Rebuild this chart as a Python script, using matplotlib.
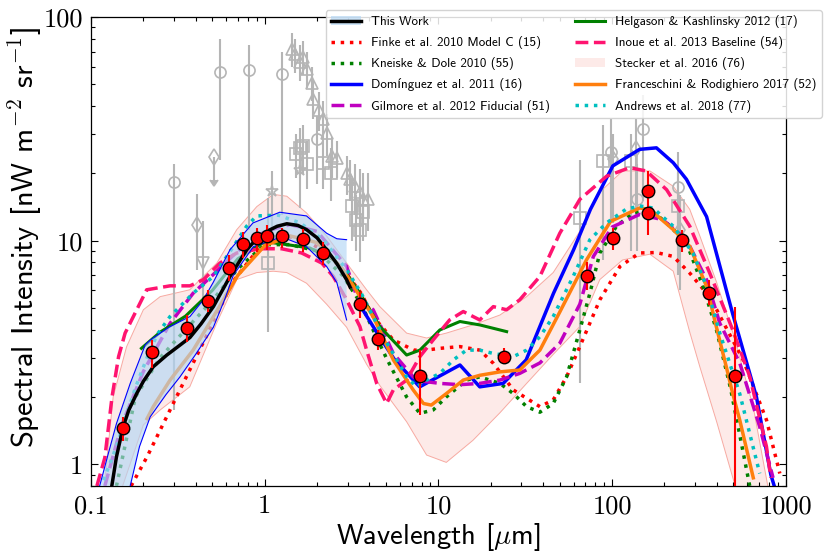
import numpy as np
import matplotlib
matplotlib.use('Agg')
import matplotlib.pyplot as plt
from matplotlib.patches import Patch
from matplotlib.lines import Line2D
from matplotlib.ticker import NullFormatter, LogLocator

plt.rcParams['mathtext.fontset'] = 'cm'
plt.rcParams['axes.unicode_minus'] = False

# ---------------- This Work ----------------
tw_x = [0.1316, 0.14, 0.153, 0.165, 0.183, 0.2, 0.228, 0.273, 0.32, 0.371, 0.43, 0.506, 0.631, 0.788, 0.9,
        1.026, 1.18, 1.34, 1.55, 1.74, 2.0, 2.27, 2.6, 2.96, 3.1]
tw_mid = [0.8, 1.08, 1.47, 1.75, 2.07, 2.35, 2.73, 3.08, 3.38, 3.69, 4.25, 5.07, 6.92, 9.11, 10.2,
          11.0, 11.6, 11.9, 11.7, 11.2, 10.3, 9.11, 7.9, 6.69, 6.2]
twu_x = [0.112, 0.125, 0.14, 0.168, 0.205, 0.22, 0.28, 0.371, 0.44, 0.504, 0.631, 0.855, 1.22, 1.74, 2.27, 2.6, 2.96]
twu_y = [0.8, 1.1, 1.52, 2.30, 3.42, 3.6, 4.1, 4.58, 5.4, 6.49, 9.11, 12.0, 13.4, 12.9, 10.8, 10.2, 10.1]
twl_x = [0.168, 0.19, 0.219, 0.27, 0.325, 0.40, 0.506, 0.59, 0.659, 0.86, 1.25, 1.74, 2.27, 2.6, 2.96]
twl_y = [0.8, 1.2, 1.63, 2.05, 2.46, 3.1, 4.1, 5.5, 7.0, 9.4, 10.4, 9.4, 7.67, 6.5, 4.42]

pts_x = [0.153, 0.225, 0.356, 0.470, 0.619, 0.746, 0.899, 1.026, 1.25, 1.65, 2.16, 3.53, 4.51, 7.86, 23.7,
         71.3, 101, 162, 162, 251, 361, 507]
pts_y = [1.45, 3.17, 4.06, 5.40, 7.55, 9.66, 10.24, 10.5, 10.5, 10.2, 8.81, 5.20, 3.62, 2.47, 3.03,
         6.98, 10.3, 16.6, 13.3, 10.1, 5.86, 2.47]
pts_lo = [1.27, 2.69, 3.52, 4.81, 6.62, 8.39, 8.9, 9.1, 9.3, 8.9, 7.8, 4.5, 3.24, 1.66, 2.8,
          6.0, 9.1, 15.3, 10.6, 8.9, 5.16, 0.5]
pts_hi = [1.63, 3.60, 4.66, 6.03, 8.65, 10.97, 11.4, 11.8, 11.4, 11.3, 9.9, 5.9, 4.0, 3.24, 3.3,
          8.0, 11.4, 20.4, 16.1, 11.2, 6.7, 5.06]

# ---------------- Models ----------------
finke_x = [0.17, 0.21, 0.31, 0.45, 0.65, 0.9, 1.2, 1.6, 2.2, 3.0, 3.6, 4.2, 5.5, 7.2, 8.5, 10.2, 13.3, 17.3,
           20.7, 27, 38.4, 45.8, 54.7, 65.2, 85, 111, 144, 180, 225, 280, 350, 400, 568, 774, 924]
finke_y = [0.8, 1.08, 2.0, 3.6, 6.5, 9.0, 10.5, 10.3, 9.0, 7.0, 5.8, 4.58, 3.6, 3.24, 3.24, 3.30, 3.36, 3.24,
           2.83, 2.15, 1.81, 1.94, 2.46, 3.36, 5.44, 7.67, 8.81, 8.85, 8.5, 7.16, 5.82, 4.91, 2.93, 1.58, 0.91]

kd_x = [0.14, 0.18, 0.25, 0.35, 0.5, 0.7, 1.0, 1.4, 2.0, 2.8, 3.6, 4.2, 5.0, 5.5, 6.56, 7.82, 9.33, 11.1,
        14.5, 17.3, 22.6, 27, 32.2, 38.4, 45.8, 54.7, 65.2, 74.5, 85, 106, 132, 165, 206, 268, 334, 399,
        480, 560, 620]
kd_y = [0.8, 2.0, 3.0, 4.0, 5.4, 7.5, 9.6, 9.6, 9.0, 7.0, 5.2, 4.0, 3.0, 2.6, 2.0, 1.69, 1.75, 2.0,
        2.38, 2.46, 2.30, 2.07, 1.81, 1.71, 1.87, 2.46, 3.99, 5.82, 8.81, 11.6, 13.3, 13.8, 12.0, 9.77, 6.24, 3.99,
        2.2, 1.2, 0.8]

dom_x = [3.5, 4.5, 5.6, 7.8, 13.3, 17.3, 23.6, 32, 46, 60, 75, 101, 144, 180, 225, 268, 350, 495, 678, 820, 880]
dom_y = [5.2, 3.8, 2.93, 2.22, 2.78, 2.22, 2.30, 2.93, 5.82, 9.1, 13.8, 21.6, 25.6, 26.0, 22.3, 18.8, 12.8,
         4.7, 2.0, 0.9, 0.75]

gil_x = [0.12, 0.15, 0.2, 0.285, 0.387, 0.5, 0.7, 1.0, 1.4, 2.0, 2.96, 3.4, 4.21, 5.5, 7.16, 8.2, 10.2,
         13.3, 17.3, 22.6, 29.4, 38.4, 50, 65.2, 78, 100, 144, 196, 268, 350, 417, 543, 708, 845]
gil_y = [0.8, 1.5, 2.6, 4.27, 5.82, 7.0, 9.0, 11.0, 11.8, 11.0, 7.67, 5.6, 4.91, 3.13, 2.46, 2.35, 2.30,
         2.27, 2.30, 2.38, 2.55, 2.84, 3.48, 5.2, 8.5, 11.5, 13.1, 12.4, 10.1, 6.69, 4.27, 2.84, 1.47, 0.87]

hk_x = [0.195, 0.25, 0.35, 0.5, 0.7, 1.0, 1.34, 1.82, 2.48, 3.0, 3.53, 4.6, 6.56, 7.82, 10.2, 13.3, 17.3, 24.7]
hk_y = [3.3, 3.9, 4.6, 6.0, 8.3, 9.9, 9.6, 9.27, 8.22, 7.0, 5.82, 4.13, 3.08, 3.24, 3.99, 4.35, 4.2, 3.92]

ino_x = [0.108, 0.12, 0.132, 0.144, 0.157, 0.209, 0.285, 0.371, 0.443, 0.552, 0.690, 0.94, 1.25, 1.63, 2.13,
         2.48, 2.96, 3.53, 3.86, 4.41, 5.03, 5.5, 6.56, 7.82, 9.33, 11.6, 13.9, 17.3, 20.7, 24.7, 29.4, 38.4,
         50, 65.2, 92.9, 126, 157, 206, 280, 365, 495, 621, 774, 820]
ino_y = [0.8, 1.07, 2.0, 3.03, 3.86, 6.03, 6.28, 6.28, 6.69, 7.94, 8.81, 9.2, 9.2, 8.81, 7.94,
         6.92, 5.44, 4.13, 3.24, 2.30, 1.87, 2.15, 2.38, 3.03, 3.60, 4.42, 4.82, 4.42, 5.07, 4.91, 5.44, 6.92,
         10.8, 15.3, 19.4, 21.2, 20.5, 16.9, 11.6, 7.16, 3.99, 2.46, 1.2, 0.87]

st_x = [0.12, 0.134, 0.16, 0.2, 0.25, 0.37, 0.53, 0.69, 0.9, 1.12, 1.34, 1.74, 2.27, 2.96, 3.86, 4.6, 6.56,
        8.55, 11.1, 15.8, 22.6, 32.2, 45.8, 65.2, 85, 115, 165, 225, 280, 320, 400, 500, 650, 800]
st_hi = [0.85, 2.0, 3.35, 4.91, 5.62, 6.03, 7.94, 11.2, 14.2, 16.1, 15.8, 13.3, 10.5, 7.94, 6.03, 5.07, 3.86,
         3.67, 3.86, 4.2, 4.65, 5.62, 7.2, 11.0, 16.5, 20.5, 20.5, 17.5, 13.8, 10.5, 6.5, 3.8, 1.8, 0.75]
st_lo = [0.5, 0.6, 0.9, 1.5, 1.75, 2.22, 4.3, 6.7, 7.2, 7.3, 7.2, 6.45, 5.2, 4.1, 2.8, 2.25, 1.55,
         1.1, 1.02, 1.28, 1.7, 2.3, 3.1, 4.13, 6.7, 8.2, 8.7, 7.3, 3.9, 2.73, 1.55, 0.85, 0.4, 0.3]

fr_x = [0.21, 0.228, 0.285, 0.387, 0.5, 0.7, 1.0, 1.4, 2.0, 2.8, 3.5, 4.21, 5.5, 7.16, 8.2, 9.1, 11.1, 13.9,
        17.3, 22.6, 29.4, 38.4, 50, 71.3, 98, 144, 165, 225, 280, 350, 399, 456, 495, 543, 650]
fr_y = [1.6, 1.81, 2.38, 3.24, 4.5, 7.0, 9.5, 10.5, 9.8, 7.5, 5.7, 4.58, 2.93, 2.15, 1.87, 1.84, 2.07, 2.38,
        2.50, 2.59, 2.64, 3.24, 4.8, 8.22, 12.2, 14.0, 13.8, 11.2, 9.43, 6.24, 4.1, 2.7, 2.07, 1.58, 0.87]

an_x = [0.118, 0.14, 0.18, 0.21, 0.24, 0.285, 0.387, 0.506, 0.659, 0.786, 0.898, 1.2, 1.6, 2.2, 3.0, 3.6, 4.82,
        6.56, 7.5, 8.55, 10.2, 12.2, 14.5, 17.3, 20.7, 27, 32.2, 38.4, 45.8, 59.7, 74.5, 92.9, 120, 144, 172,
        225, 292, 350, 417, 543, 708]
an_y = [0.85, 1.2, 2.2, 3.0, 3.8, 4.58, 5.82, 6.92, 9.4, 11.6, 12.9, 13.0, 12.0, 10.0, 7.3, 5.8, 3.72,
        2.46, 2.22, 2.38, 2.55, 2.93, 3.24, 3.24, 3.13, 3.03, 3.24, 3.72, 4.58, 6.92, 10.1, 12.0, 13.8, 14.3, 14.0,
        11.6, 8.81, 6.24, 3.86, 2.07, 0.91]

# ---------------- literature measurements (grey) ----------------
g_o_x = [0.30, 0.552, 0.81, 1.26, 1.99, 98, 150, 140, 240]
g_o_y = [18.2, 56.6, 57.8, 55.5, 28.4, 24.9, 31.7, 15.3, 17.4]
g_o_lo = [1.75, 23, 11.2, 13, 18, 12, 15, 9, 9]
g_o_hi = [22, 80, 75, 70, 36, 35, 45, 22, 25]

g_s_x = [1.05, 1.52, 1.59, 1.67, 1.75, 2.16, 2.4, 3.2, 3.37, 3.53, 3.7, 65.2, 88.8, 128, 240]
g_s_y = [7.94, 24.5, 26.0, 26.5, 22.0, 22.3, 20.0, 14.3, 12.4, 11.2, 13.5, 12.6, 22.8, 22.8, 14.3]
g_s_lo = [3.9, 19, 20, 20, 17, 17, 15, 10, 9, 8, 10, 2.3, 8.2, 9, 7]
g_s_hi = [15.5, 30, 32, 33, 28, 28, 26, 19, 16, 15, 17, 23, 33, 30, 20]

g_t_x = [1.43, 1.5, 1.59, 1.67, 1.74, 1.86, 1.90, 2.06, 2.16, 2.27, 2.43, 2.61, 2.96, 3.09, 3.3, 3.53, 3.68, 3.93]
g_t_y = [72, 68, 63, 66.4, 58.5, 50.9, 42.9, 38.3, 34.9, 30.2, 23.8, 23.4, 20.0, 18.8, 17.5, 16.5, 15.3, 15.3]
g_t_lo = [60, 56, 52, 55, 48, 42, 35, 31, 28, 24, 19, 19, 16, 15, 13, 12, 11, 11]
g_t_hi = [85, 80, 75, 78, 70, 60, 52, 46, 42, 37, 29, 28, 24, 23, 22, 21, 20, 20]

g_d_x = [0.406, 101, 137, 245]
g_d_y = [11.8, 23.1, 25.6, 11.2]
g_d_lo = [7.4, 12, 13, 6]
g_d_hi = [16.1, 30, 35, 16]

g_v_x = [0.443]
g_v_y = [7.94]
g_v_lo = [5.44]
g_v_hi = [12.2]

g_star_x = [1.10, 1.59]
g_star_y = [16.6, 20.7]
g_star_lo = [10.6, 14]
g_star_hi = [20.5, 28]

g_ul_x = [0.51]
g_ul_y = [23.6]

labels = ['This Work', 'Finke et al. 2010 Model C (15)', 'Kneiske & Dole 2010 (55)',
          'Domínguez et al. 2011 (16)', 'Gilmore et al. 2012 Fiducial (51)',
          'Helgason & Kashlinsky 2012 (17)', 'Inoue et al. 2013 Baseline (54)',
          'Stecker et al. 2016 (76)', 'Franceschini & Rodighiero 2017 (52)', 'Andrews et al. 2018 (77)']

# ---------------- figure ----------------
fig = plt.figure(figsize=(8.28, 5.52), dpi=100)
ax = fig.add_axes([0.110, 0.1196, 0.839, 0.8496])
ax.set_xscale('log')
ax.set_yscale('log')

grey = '#b5b5b5'
def gerr(x, y, lo, hi, m, ms=8):
    x = np.array(x); y = np.array(y)
    yerr = [y - np.array(lo), np.array(hi) - y]
    ax.errorbar(x, y, yerr=yerr, fmt=m, color=grey, mfc='none', mec=grey, ecolor=grey, ms=ms,
                mew=1.2, elinewidth=1.5, capsize=0, zorder=1)

gerr(g_o_x, g_o_y, g_o_lo, g_o_hi, 'o')
gerr(g_s_x, g_s_y, g_s_lo, g_s_hi, 's')
gerr(g_t_x, g_t_y, g_t_lo, g_t_hi, '^')
gerr(g_d_x, g_d_y, g_d_lo, g_d_hi, 'd')
gerr(g_v_x, g_v_y, g_v_lo, g_v_hi, 'v')
gerr(g_star_x, g_star_y, g_star_lo, g_star_hi, '*', ms=9)
ax.errorbar(g_ul_x, g_ul_y, yerr=[[5], [0]], uplims=True, fmt='d', color=grey, mfc='none', mec=grey,
            ecolor=grey, ms=8, mew=1.2, elinewidth=1.5, zorder=1)

# Stecker band
st_face = '#fdeae8'
ax.fill_between(st_x, st_lo, st_hi, facecolor=st_face, edgecolor='none', zorder=0.8)
ax.plot(st_x, st_hi, color='#f7aaa2', lw=0.7, zorder=0.9)
ax.plot(st_x, st_lo, color='#f7aaa2', lw=0.7, zorder=0.9)

lw = 2.5
l_finke, = ax.plot(finke_x, finke_y, color='red', ls=':', lw=lw, zorder=2)
l_kd, = ax.plot(kd_x, kd_y, color='green', ls=':', lw=lw, zorder=2)
l_dom, = ax.plot(dom_x, dom_y, color='blue', ls='-', lw=lw, zorder=2)
l_gil, = ax.plot(gil_x, gil_y, color='#c000c0', ls='--', lw=lw, zorder=2)
l_hk, = ax.plot(hk_x, hk_y, color='green', ls='-', lw=2.2, zorder=2)
l_ino, = ax.plot(ino_x, ino_y, color='#ff1470', ls='--', lw=lw, zorder=2)
l_fr, = ax.plot(fr_x, fr_y, color='#ff7f0e', ls='-', lw=lw, zorder=2)
l_an, = ax.plot(an_x, an_y, color='#00c0c0', ls=':', lw=lw, zorder=2)

# This Work band and curve
band_c = '#b2d6f5'
ax.fill(list(twu_x) + list(twl_x)[::-1], list(twu_y) + list(twl_y)[::-1],
        facecolor=band_c, alpha=0.65, edgecolor='none', zorder=3)
ax.plot(twu_x, twu_y, color='blue', lw=0.8, zorder=3.1)
ax.plot(twl_x, twl_y, color='blue', lw=0.8, zorder=3.1)
l_tw, = ax.plot(tw_x, tw_mid, color='black', lw=2.5, zorder=4)

py = np.array(pts_y)
ax.errorbar(pts_x, pts_y, yerr=[py - np.array(pts_lo), np.array(pts_hi) - py], fmt='o',
            color='red', mfc='red', mec='black', mew=1.0, ms=9, elinewidth=1.5, capsize=0, zorder=5)

ax.set_xlim(0.1, 1000)
ax.set_ylim(0.8, 100)

ax.set_xticks([0.1, 1, 10, 100, 1000], labels=['0.1', '1', '10', '100', '1000'])
ax.set_yticks([1, 10, 100], labels=['1', '10', '100'])
ax.xaxis.set_minor_locator(LogLocator(base=10, subs=np.arange(2, 10)))
ax.yaxis.set_minor_locator(LogLocator(base=10, subs=np.arange(2, 10)))
ax.xaxis.set_minor_formatter(NullFormatter())
ax.yaxis.set_minor_formatter(NullFormatter())
for lab in ax.get_xticklabels() + ax.get_yticklabels():
    lab.set_fontfamily('cmr10')
    lab.set_fontsize(19)
ax.tick_params(which='both', direction='in', top=True, right=True, width=0.8)
ax.tick_params(which='major', length=5, pad=6)
ax.tick_params(which='minor', length=3)
for s in ax.spines.values():
    s.set_linewidth(0.9)

ax.set_xlabel('Wavelength [$\\mu$m]', fontfamily='cmss10', fontsize=20.5, labelpad=2)
ax.set_ylabel('Spectral Intensity [nW m$^{-2}$ sr$^{-1}$]', fontfamily='cmss10', fontsize=22)
ax.yaxis.set_label_coords(-0.068, 0.53)

tw_handle = (Patch(facecolor=band_c, alpha=0.65, edgecolor='none'), Line2D([], [], color='black', lw=2.5))
st_handle = Patch(facecolor=st_face, edgecolor='none')
handles = [tw_handle, l_finke, l_kd, l_dom, l_gil, l_hk, l_ino, st_handle, l_fr, l_an]
leg = ax.legend(handles, labels, ncol=2, loc='upper right', bbox_to_anchor=(0.9928, 0.982),
                bbox_transform=fig.transFigure, prop={'family': 'cmss10', 'size': 9.4},
                framealpha=0.85, handlelength=2.3, handletextpad=0.78, columnspacing=1.9,
                labelspacing=0.62, borderpad=0.4, borderaxespad=0)
for t in leg.get_texts():
    if 'í' in t.get_text():
        t.set_fontfamily(['cmss10', 'DejaVu Sans'])
leg.set_zorder(10)

fig.savefig('out.png', dpi=100)
